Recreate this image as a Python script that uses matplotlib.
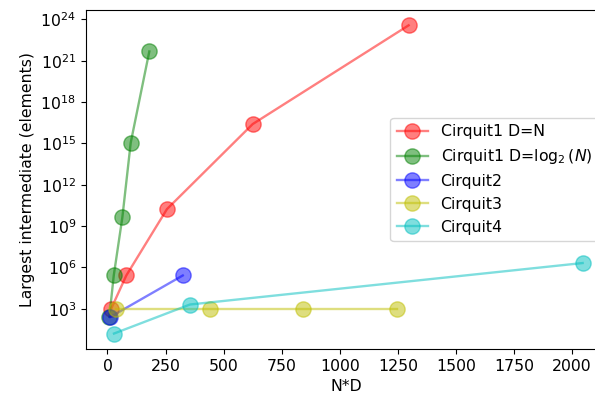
import numpy as np
import matplotlib
matplotlib.use('Agg')
import matplotlib.pyplot as plt
from matplotlib.ticker import NullLocator

# N*D on x, largest intermediate size on y
c1_n_x = [16, 81, 256, 625, 1296]
c1_n_y = [2**10, 2**18, 2**34, 2**54.5, 2**78.3]

c1_log_x = [8, 27, 64, 100, 180]
c1_log_y = [2**8, 2**18, 2**32, 2**50, 2**72]

c2_x = [12, 324]
c2_y = [2**8, 2**18]

c3_x = [36, 440, 840, 1248]
c3_y = [1024, 1024, 1024, 1024]

c4_x = [28, 355, 2045]
c4_y = [16, 2048, 2**21]

plt.rcParams['font.size'] = 11.3

fig = plt.figure(figsize=(5.95, 3.97), dpi=100)
# the original image was cropped on the right, so the axes run past the edge
ax = fig.add_axes([0.144, 0.121, 0.875, 0.854])

kw = dict(marker='o', markersize=11, alpha=0.5, linewidth=1.7)
ax.plot(c1_n_x, c1_n_y, color='r', label='Cirquit1 D=N', **kw)
ax.plot(c1_log_x, c1_log_y, color='g', label=r'Cirquit1 D=$\log_2(N)$', **kw)
ax.plot(c2_x, c2_y, color='b', label='Cirquit2', **kw)
ax.plot(c3_x, c3_y, color='y', label='Cirquit3', **kw)
ax.plot(c4_x, c4_y, color='c', label='Cirquit4', **kw)

ax.set_yscale('log')
ax.set_yticks([10.0**k for k in range(3, 25, 3)])
ax.yaxis.set_minor_locator(NullLocator())
ax.set_xlabel('N*D')
ax.set_ylabel('Largest intermediate (elements)')
ax.legend(loc='center right')

plt.savefig('out.png', dpi=100)
